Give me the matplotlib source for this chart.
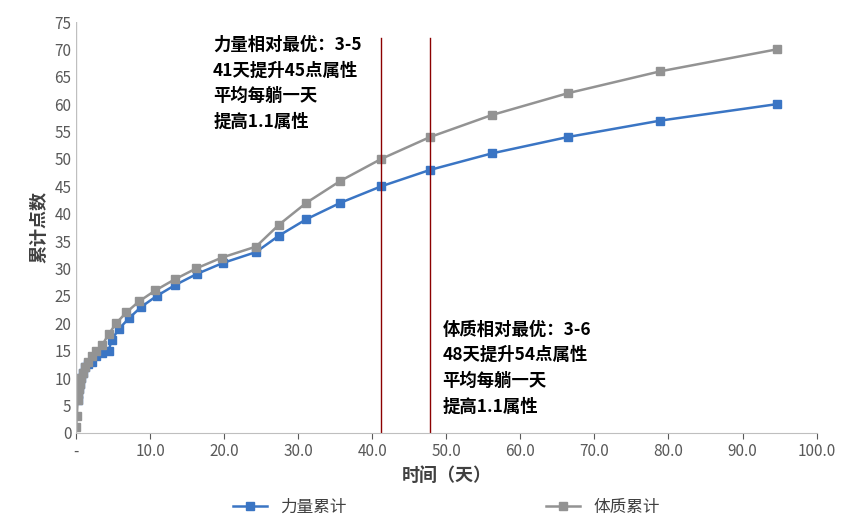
import matplotlib
matplotlib.use('Agg')
import matplotlib.pyplot as plt

plt.rcParams['font.family'] = ['Noto Sans CJK SC', 'DejaVu Sans']

# data
tz_x = [0, 0.1, 0.2, 0.3, 0.4, 0.5, 0.7, 0.9, 1.2, 1.6, 2.1, 2.7, 3.5, 4.4, 5.4, 6.8,
        8.5, 10.7, 13.3, 16.2, 19.7, 24.3, 27.4, 31.1, 35.7, 41.2, 47.8, 56.1, 66.4, 78.9, 94.6]
tz_y = [1, 3, 6, 7, 8, 9, 10, 11, 12, 13, 14, 15, 16, 18, 20, 22,
        24, 26, 28, 30, 32, 34, 38, 42, 46, 50, 54, 58, 62, 66, 70]
ll_x = [0.2, 0.3, 0.4, 0.5, 0.7, 0.9, 1.2, 1.6, 2.1, 2.7, 3.5, 4.4, 4.8, 5.8, 7.2,
        8.8, 10.9, 13.4, 16.3, 19.8, 24.3, 27.4, 31.1, 35.7, 41.2, 47.8, 56.1, 66.4, 78.9, 94.6]
ll_y = [6, 7, 8, 9, 10, 11, 12, 12.5, 13, 14, 14.5, 15, 17, 19, 21,
        23, 25, 27, 29, 31, 33, 36, 39, 42, 45, 48, 51, 54, 57, 60]
vlines = [41.2, 47.8]

fig, ax = plt.subplots(figsize=(8.65, 5.24), dpi=100)
fig.subplots_adjust(left=0.088, right=0.944, top=0.958, bottom=0.174)

ax.plot(ll_x, ll_y, color='#3a75c4', marker='s', markersize=6, lw=1.8, label='力量累计')
ax.plot(tz_x, tz_y, color='#939393', marker='s', markersize=6, lw=1.8, label='体质累计')
for v in vlines:
    ax.axvline(v, ymin=0, ymax=72 / 75, color='#8b0000', lw=1)

ax.set_xlim(0, 100)
ax.set_ylim(0, 75)
ax.set_xticks(range(0, 101, 10))
ax.set_xticklabels(['-'] + ['%.1f' % v for v in range(10, 101, 10)])
ax.set_yticks(range(0, 76, 5))
ax.tick_params(labelsize=11, colors='#595959', length=4)
ax.tick_params(axis='y', length=0)
for s in ['top', 'right', 'left']:
    ax.spines[s].set_visible(False)
ax.spines['bottom'].set_color('#bfbfbf')
ax.axvline(0, color='#bfbfbf', lw=1)
ax.set_xlabel('时间（天）', fontsize=13, color='#404040', fontweight='bold')
ax.set_ylabel('累计点数', fontsize=13, color='#404040', fontweight='bold')

ax.text(18.5, 72.5, '力量相对最优：3-5\n41天提升45点属性\n平均每躺一天\n提高1.1属性',
        fontsize=12.5, fontweight='bold', va='top', linespacing=1.55)
ax.text(49.5, 20.5, '体质相对最优：3-6\n48天提升54点属性\n平均每躺一天\n提高1.1属性',
        fontsize=12.5, fontweight='bold', va='top', linespacing=1.55)

ax.legend(loc='upper center', bbox_to_anchor=(0.5, -0.125), ncol=2, frameon=False,
          fontsize=12, columnspacing=12, labelcolor='#404040')

fig.savefig('out.png')
